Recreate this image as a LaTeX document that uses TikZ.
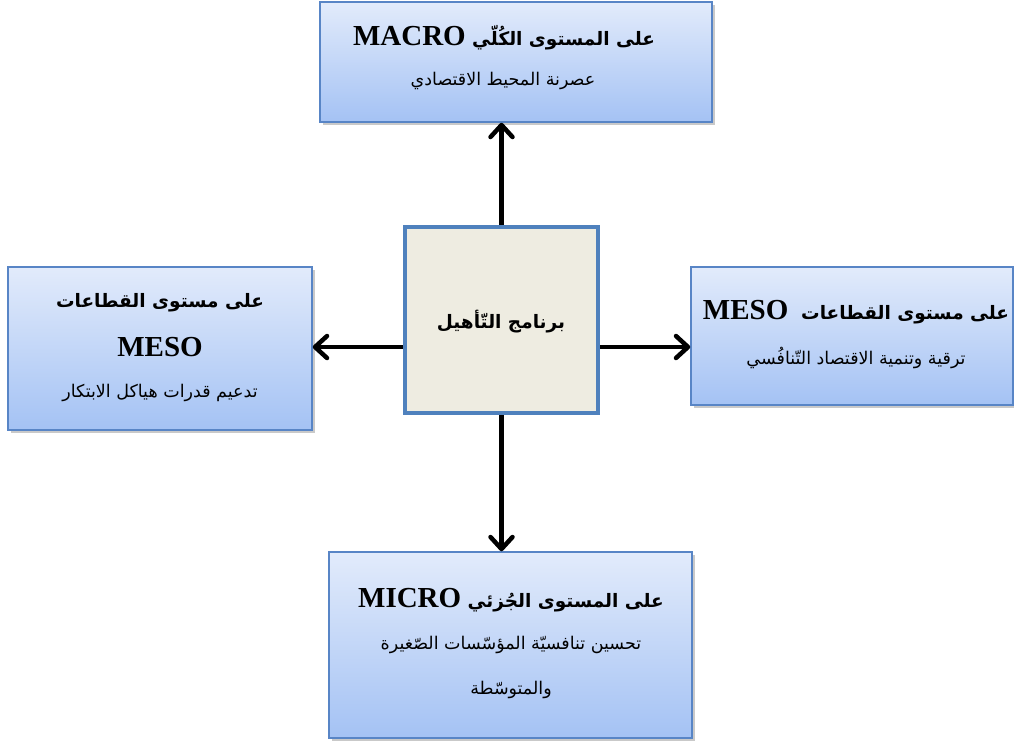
\documentclass[tikz,border=0pt]{standalone}
\usepackage{fontspec}
\setmainfont{Liberation Serif}
\newfontfamily\arabicfont[Script=Arabic]{DejaVu Sans}
\TeXXeTstate=1
\usetikzlibrary{arrows.meta,shadows,calc}
\definecolor{boxtop}{RGB}{226,235,251}
\definecolor{boxbot}{RGB}{164,194,244}
\definecolor{boxline}{RGB}{88,133,198}
\definecolor{centerfill}{RGB}{238,236,225}
\definecolor{centerline}{RGB}{79,129,189}
\newcommand{\latinword}[1]{\beginL{\rmfamily\bfseries\fontsize{29}{32}\selectfont #1}\endL}
\tikzset{
  levelbox/.style={draw=boxline, line width=1.5pt, top color=boxtop, bottom color=boxbot,
    inner sep=0pt, minimum width=#1,
    drop shadow={shadow xshift=2.5pt, shadow yshift=-3pt, opacity=0.3, fill=black!70}},
  corebox/.style={draw=centerline, line width=4pt, fill=centerfill, inner sep=0pt,
    minimum width=193pt, minimum height=186pt},
  titletxt/.style={font=\arabicfont\bfseries\fontsize{18.5}{23}\selectfont, inner sep=0pt},
  bodytxt/.style={font=\arabicfont\fontsize{17.5}{21}\selectfont, inner sep=0pt},
  latintxt/.style={font=\rmfamily\bfseries\fontsize{29}{32}\selectfont, inner sep=0pt},
  linkarrow/.style={line width=4.5pt, -{Straight Barb[length=12pt,width=22pt,round]}}
}
\begin{document}
\begin{tikzpicture}[x=1pt,y=-1pt]
\useasboundingbox (0,0) rectangle (1014,742);
% boxes
\node[levelbox=392pt, minimum height=120pt] (t) at (516,62) {};
\node[levelbox=304pt, minimum height=163pt] (l) at (160,348.5) {};
\node[levelbox=322pt, minimum height=138pt] (r) at (852,336) {};
\node[levelbox=363pt, minimum height=186pt] (b) at (510.5,645) {};
\node[corebox] (c) at (501.5,320) {};
% texts
\node[titletxt] (t1) at (504,38) {\beginR على المستوى الكُلّي \latinword{MACRO}\endR};
\node[bodytxt] (t2) at (503,81) {\beginR عصرنة المحيط الاقتصادي\endR};
\node[titletxt] (l1) at (160,303) {\beginR على مستوى القطاعات\endR};
\node[latintxt] (l2) at (160,347) {MESO};
\node[bodytxt] (l3) at (160,393) {\beginR تدعيم قدرات هياكل الابتكار\endR};
\node[titletxt] (r1) at (856,312) {\beginR على مستوى القطاعات\ \ \latinword{MESO}\endR};
\node[bodytxt] (r2) at (856,358) {\beginR ترقية وتنمية الاقتصاد التّنافُسي\endR};
\node[titletxt] (b1) at (511,600) {\beginR على المستوى الجُزئي \latinword{MICRO}\endR};
\node[bodytxt] (b2) at (511,645) {\beginR تحسين تنافسيّة المؤسّسات الصّغيرة\endR};
\node[bodytxt] (b3) at (511,690) {\beginR والمتوسّطة\endR};
\node[titletxt] (c1) at (501,322) {\beginR برنامج التّأهيل\endR};
% arrows
\draw[linkarrow] (c.north) -- (c.north |- t.south);
\draw[linkarrow] (c.south) -- (c.south |- b.north);
\draw[linkarrow] ([yshift=-27pt]c.west) -- ([yshift=-27pt]c.west -| l.east);
\draw[linkarrow] ([yshift=-27pt]c.east) -- ([yshift=-27pt]c.east -| r.west);
\end{tikzpicture}
\end{document}
